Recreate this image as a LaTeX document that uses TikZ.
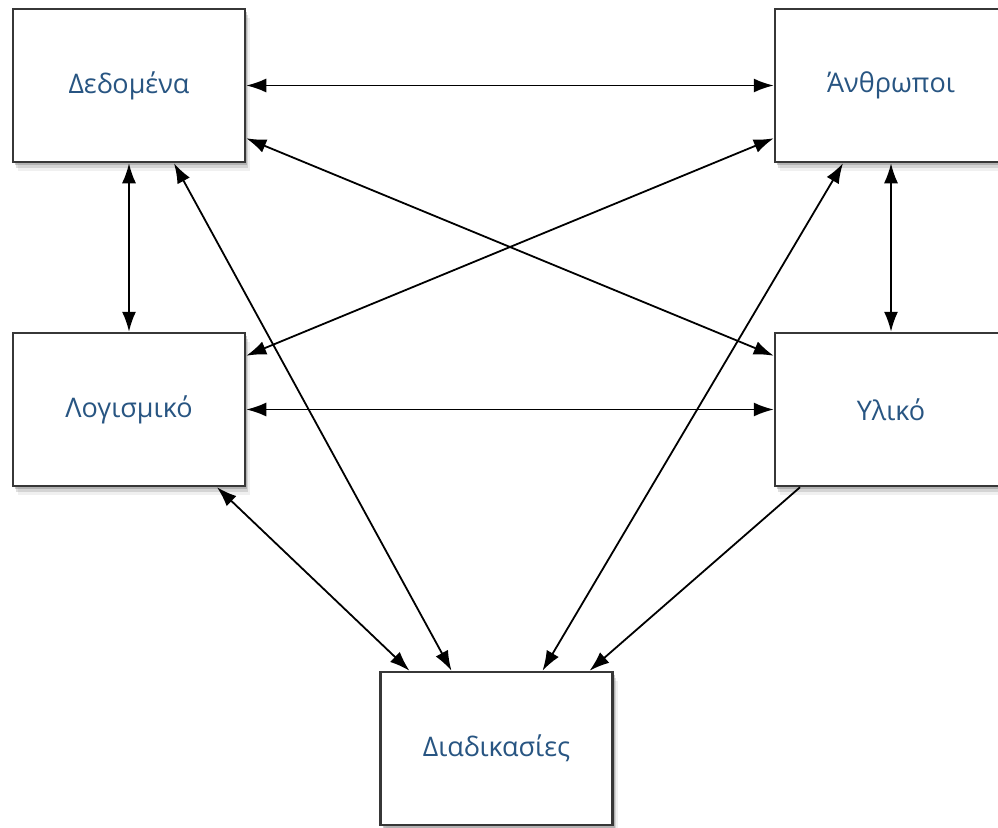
\documentclass[tikz,border=0pt]{standalone}
\usepackage{fontspec}
\setmainfont{Open Sans}
\usetikzlibrary{arrows.meta,positioning,shadows}
\definecolor{boxtext}{RGB}{40,85,130}
\definecolor{boxline}{RGB}{55,55,55}

\begin{document}
\begin{tikzpicture}[x=1pt,y=-1pt,
  >={Latex[length=20pt,width=14pt]},
  comp/.style={draw=boxline,line width=2.5pt,fill=white,
    minimum width=232pt,minimum height=153pt,inner sep=0pt,
    text=boxtext,font=\fontsize{27}{32}\selectfont,
    drop shadow={shadow xshift=5pt,shadow yshift=-9pt,opacity=0.12},
    drop shadow={shadow xshift=3pt,shadow yshift=-6pt,opacity=0.25},
    drop shadow={shadow xshift=2pt,shadow yshift=-3pt,opacity=0.4}},
  link/.style={line width=1.8pt,<->},
  oneway/.style={line width=1.8pt,->}]
  \useasboundingbox (0,0) rectangle (998,827);
  \node[comp] (dat)  at (129,85.5)   {Δεδομένα};
  \node[comp] (ppl)  at (891,85.5)   {Άνθρωποι};
  \node[comp] (sw)   at (129,409.5)  {Λογισμικό};
  \node[comp] (hw)   at (891,409.5)  {Υλικό};
  \node[comp] (proc) at (496.5,748.5) {Διαδικασίες};
  \path[link]
    (dat) edge (ppl)
    (dat) edge (sw)
    (ppl) edge (hw)
    (sw) edge (hw)
    ([yshift=25pt]dat.south east) edge ([yshift=-24pt]hw.north west)
    ([yshift=25pt]ppl.south west) edge ([yshift=-24pt]sw.north east)
    ([xshift=45pt]dat.south) edge ([xshift=-45pt]proc.north)
    ([xshift=-48pt]ppl.south) edge ([xshift=46pt]proc.north)
    ([xshift=88pt]sw.south) edge ([xshift=-87pt]proc.north);
  \path[oneway]
    ([xshift=-91pt]hw.south) edge ([xshift=93pt]proc.north);
    %no tip at the hardware end
\end{tikzpicture}
\end{document}
